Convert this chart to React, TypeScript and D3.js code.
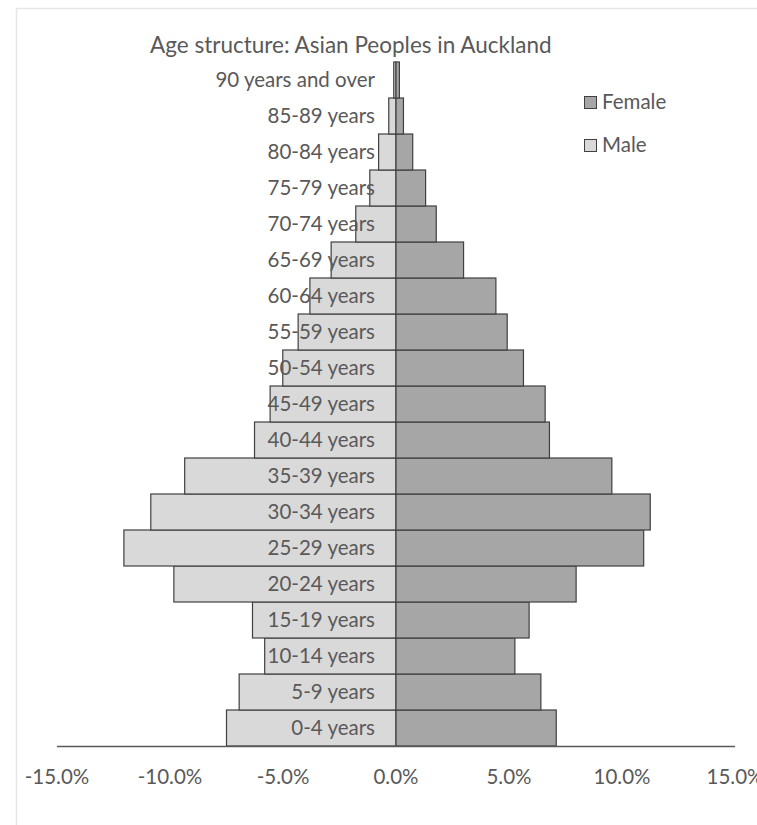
import React from "react";
import * as d3 from "d3";

const categories = [
  "0-4 years", "5-9 years", "10-14 years", "15-19 years", "20-24 years",
  "25-29 years", "30-34 years", "35-39 years", "40-44 years", "45-49 years",
  "50-54 years", "55-59 years", "60-64 years", "65-69 years", "70-74 years",
  "75-79 years", "80-84 years", "85-89 years", "90 years and over",
];
const male = [7.5, 6.94, 5.81, 6.35, 9.83, 12.04, 10.85, 9.35, 6.26, 5.57, 5.01, 4.33, 3.81, 2.87, 1.78, 1.16, 0.77, 0.32, 0.1];
const female = [7.09, 6.41, 5.26, 5.89, 7.97, 10.96, 11.25, 9.55, 6.79, 6.6, 5.64, 4.92, 4.42, 2.99, 1.78, 1.31, 0.74, 0.33, 0.15];
const xTicks = [-15, -10, -5, 0, 5, 10, 15];

const W = 757, H = 825;
const FONT = "Lato, 'Open Sans', sans-serif";
const TEXT = "#595959";

export default function App() {
  const x = d3.scaleLinear().domain([-15, 15]).range([57, 735]);
  const y = d3.scaleBand<string>().domain(categories.slice().reverse()).range([62, 746]).padding(0);
  const bw = y.bandwidth();
  return (
    <svg width={W} height={H} style={{ position: "absolute", left: 0, top: 0, background: "#fff" }}>
      <rect x={16.5} y={8.5} width={750} height={840} fill="none" stroke="#e6e6e6" strokeWidth={1.5} />
      <text x={150} y={53} textAnchor="start" fontFamily={FONT} fontSize={22.5} fill={TEXT}>
        Age structure: Asian Peoples in Auckland
      </text>
      {categories.map((c, i) => (
        <g key={c}>
          <rect x={x(-male[i])} y={y(c)} width={x(0) - x(-male[i])} height={bw}
            fill="#d9d9d9" stroke="#404040" strokeWidth={1.2} />
          <rect x={x(0)} y={y(c)} width={x(female[i]) - x(0)} height={bw}
            fill="#a6a6a6" stroke="#404040" strokeWidth={1.2} />
        </g>
      ))}
      {categories.map((c) => (
        <text key={"l" + c} x={x(0) - 21} y={(y(c) as number) + bw / 2 + 7} textAnchor="end"
          fontFamily={FONT} fontSize={20.5} fill={TEXT}>{c}</text>
      ))}
      <line x1={x(-15)} x2={x(15)} y1={746.5} y2={746.5} stroke="#595959" strokeWidth={1.5} />
      {xTicks.map((t) => (
        <text key={t} x={x(t)} y={784} textAnchor="middle" fontFamily={FONT} fontSize={20.5} fill={TEXT}>
          {t.toFixed(1) + "%"}
        </text>
      ))}
      <g fontFamily={FONT} fontSize={20.5} fill={TEXT}>
        <rect x={584.5} y={96.5} width={12} height={12} fill="#a6a6a6" stroke="#404040" strokeWidth={1} />
        <text x={602} y={109}>Female</text>
        <rect x={584.5} y={139.5} width={12} height={12} fill="#d9d9d9" stroke="#404040" strokeWidth={1} />
        <text x={602} y={152}>Male</text>
      </g>
    </svg>
  );
}
